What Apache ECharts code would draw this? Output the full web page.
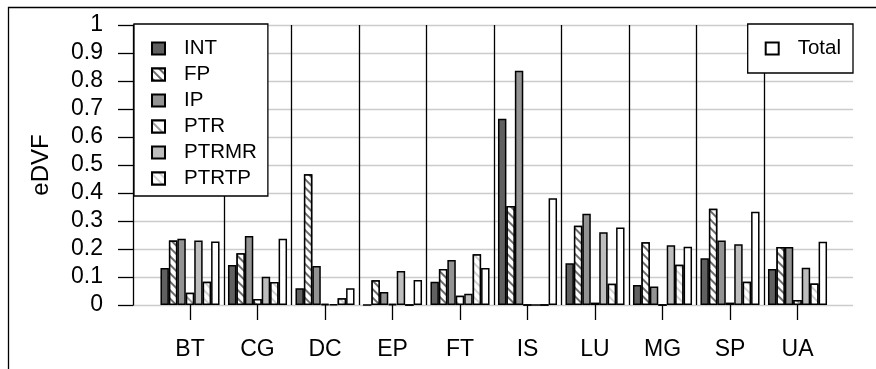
<!DOCTYPE html>
<html>
<head>
<meta charset="utf-8">
<script src="https://cdn.jsdelivr.net/npm/echarts@6/dist/echarts.min.js"></script>
<style>
  html, body { margin: 0; padding: 0; background: #fff; }
  #chart { width: 876px; height: 369px; }
</style>
</head>
<body>
<div id="chart"></div>
<script>
// Categories and per-metric eDVF values
const categories = ['BT', 'CG', 'DC', 'EP', 'FT', 'IS', 'LU', 'MG', 'SP', 'UA'];
const INT   = [0.132, 0.143, 0.060, 0.000, 0.083, 0.665, 0.149, 0.071, 0.167, 0.129];
const FP    = [0.230, 0.185, 0.467, 0.088, 0.129, 0.354, 0.283, 0.224, 0.344, 0.207];
const IP    = [0.237, 0.246, 0.139, 0.046, 0.161, 0.837, 0.326, 0.066, 0.230, 0.207];
const PTR   = [0.044, 0.021, 0.004, 0.003, 0.033, 0.000, 0.008, 0.000, 0.008, 0.018];
const PTRMR = [0.230, 0.101, 0.002, 0.121, 0.040, 0.000, 0.260, 0.213, 0.217, 0.133];
const PTRTP = [0.083, 0.082, 0.024, 0.000, 0.181, 0.000, 0.076, 0.144, 0.083, 0.077];
const Total = [0.227, 0.237, 0.060, 0.089, 0.132, 0.381, 0.277, 0.208, 0.333, 0.226];
const yTickLabels = ['0', '0.1', '0.2', '0.3', '0.4', '0.5', '0.6', '0.7', '0.8', '0.9', '1'];

const FONT = '"Liberation Sans", Arial, Helvetica, sans-serif';
const LW = 1.3;
const BAR_LW = 1.5;

function hatch(color, line, gap) {
  return {
    symbol: 'rect', symbolSize: 1,
    dashArrayX: [1, 0], dashArrayY: [line, gap],
    rotation: Math.PI / 4,
    color: color, backgroundColor: '#ffffff'
  };
}

const seriesDefs = [
  { name: 'INT',   data: INT,   color: '#606060' },
  { name: 'FP',    data: FP,    color: '#ffffff', decal: hatch('#6a6a6a', 1.8, 3.2) },
  { name: 'IP',    data: IP,    color: '#939393' },
  { name: 'PTR',   data: PTR,   color: '#ffffff', decal: hatch('#9a9a9a', 1.5, 9) },
  { name: 'PTRMR', data: PTRMR, color: '#bdbdbd' },
  { name: 'PTRTP', data: PTRTP, color: '#ffffff', decal: hatch('#d0d0d0', 2, 4) },
  { name: 'Total', data: Total, color: '#ffffff' }
];

const chart = echarts.init(document.getElementById('chart'), null, { renderer: 'canvas' });

const legendCommon = {
  orient: 'vertical',
  align: 'left',
  icon: 'rect',
  itemWidth: 13,
  itemHeight: 12,
  itemGap: 5,
  backgroundColor: '#ffffff',
  borderColor: '#000',
  borderWidth: LW,
  borderRadius: 0,
  z: 10,
  selectedMode: false,
  textStyle: { fontFamily: FONT, fontSize: 20.5, color: '#000', lineHeight: 20, padding: [0, 0, 0, 14] }
};

chart.setOption({
  animation: false,
  textStyle: { fontFamily: FONT },
  grid: [
    { left: 133, right: 23, top: 25, bottom: 64 },
    { left: 156.25, width: 675, top: 25, bottom: 64 }
  ],
  legend: [
    Object.assign({}, legendCommon, {
      data: ['INT', 'FP', 'IP', 'PTR', 'PTRMR', 'PTRTP'],
      left: 134, top: 24,
      padding: [14, 11, 7, 17]
    }),
    Object.assign({}, legendCommon, {
      data: ['Total'],
      right: 23, top: 24,
      padding: [14, 12, 14, 17]
    })
  ],
  xAxis: [
    { gridIndex: 0, type: 'value', min: 0, max: 1, show: false },
    {
      gridIndex: 1, type: 'category', data: categories,
      axisLine: { show: false },
      axisTick: { show: true, alignWithLabel: true, length: 15, lineStyle: { color: '#000', width: LW } },
      axisLabel: { fontFamily: FONT, fontSize: 23, color: '#000', margin: 33 },
      splitLine: { show: true, showMinLine: false, showMaxLine: false, lineStyle: { color: '#000', width: LW } }
    }
  ],
  yAxis: [
    {
      gridIndex: 0, type: 'value', min: 0, max: 1, interval: 0.1,
      name: 'eDVF', nameLocation: 'middle', nameGap: 80,
      nameTextStyle: { fontFamily: FONT, fontSize: 24, color: '#000' },
      axisLine: { show: true, lineStyle: { color: '#000', width: LW } },
      axisTick: { show: true, length: 15, lineStyle: { color: '#000', width: LW } },
      axisLabel: {
        fontFamily: FONT, fontSize: 23, color: '#000', margin: 30,
        formatter: function (v) { return yTickLabels[Math.round(v * 10)]; }
      },
      splitLine: { show: true, lineStyle: { color: '#cccccc', width: LW } }
    },
    { gridIndex: 1, type: 'value', min: 0, max: 1, show: false }
  ],
  series: seriesDefs.map(function (s) {
    const item = { color: s.color, borderColor: '#000', borderWidth: BAR_LW };
    if (s.decal) item.decal = s.decal;
    return {
      name: s.name, type: 'bar', xAxisIndex: 1, yAxisIndex: 1,
      data: s.data, barGap: '0%', barCategoryGap: '12.5%',
      itemStyle: item
    };
  }),
  graphic: [
    {
      type: 'polyline', silent: true,
      shape: { points: [[8.5, 369], [8.5, 7.5], [876, 7.5]] },
      style: { stroke: '#000', lineWidth: LW, fill: null }
    }
  ]
});
</script>
</body>
</html>
